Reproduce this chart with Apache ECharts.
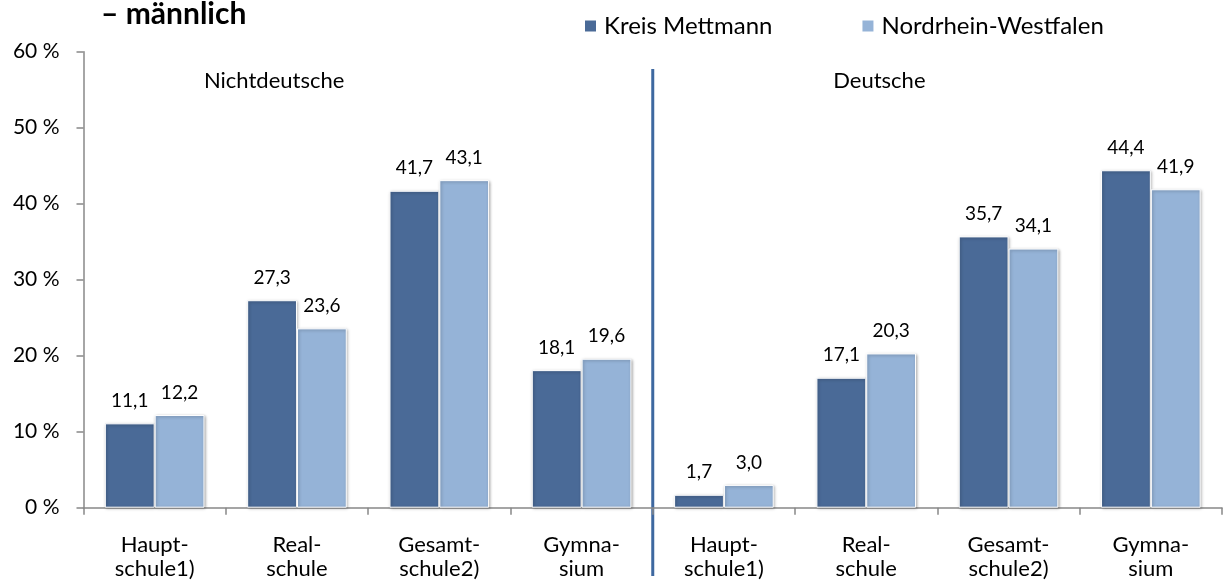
<!DOCTYPE html>
<html>
<head>
<meta charset="utf-8">
<script src="https://cdn.jsdelivr.net/npm/echarts@6/dist/echarts.min.js"></script>
<style>html,body{margin:0;padding:0;background:#fff}#c{width:1223px;height:583px}</style>
</head>
<body>
<div id="c"></div>
<script>
const categories = ['Haupt-\nschule1)', 'Real-\nschule', 'Gesamt-\nschule2)', 'Gymna-\nsium', 'Haupt-\nschule1)', 'Real-\nschule', 'Gesamt-\nschule2)', 'Gymna-\nsium'];
const kreisMettmann = [11.1, 27.3, 41.7, 18.1, 1.7, 17.1, 35.7, 44.4];
const nrw = [12.2, 23.6, 43.1, 19.6, 3.0, 20.3, 34.1, 41.9];
const seriesNames = ['Kreis Mettmann', 'Nordrhein-Westfalen'];
const groupLabels = ['Nichtdeutsche', 'Deutsche'];
const titleText = '– männlich';

const FONT = 'Lato';
const chart = echarts.init(document.getElementById('c'));
const barStyle = (color) => ({
  color: color,
  borderColor: '#ffffff',
  borderWidth: 1,
  shadowColor: 'rgba(0,0,0,0.35)',
  shadowBlur: 3,
  shadowOffsetX: 1,
  shadowOffsetY: 1
});
const labelCfg = {
  show: true, position: 'top', distance: 13,
  fontFamily: FONT, fontSize: 19, color: '#000',
  formatter: p => p.value.toFixed(1).replace('.', ',')
};
chart.setOption({
  animation: false,
  textStyle: { fontFamily: FONT },
  title: {
    text: titleText, left: 96, top: -6,
    textStyle: { fontFamily: FONT, fontWeight: 'bold', fontSize: 30, color: '#000' }
  },
  legend: {
    data: seriesNames, left: 578, top: 9, itemWidth: 13, itemHeight: 13, itemGap: 88,
    icon: 'rect',
    textStyle: { fontFamily: FONT, fontSize: 24, color: '#000', padding: [0, 0, 0, 2] }
  },
  grid: { left: 83.5, right: 1, top: 51.7, bottom: 75.3, containLabel: false },
  xAxis: {
    type: 'category', data: categories,
    axisLine: { lineStyle: { color: '#888', width: 1.5 } },
    axisTick: { show: true, length: 7, lineStyle: { color: '#888', width: 1.5 } },
    axisLabel: { fontFamily: FONT, fontSize: 22, color: '#000', margin: 25, lineHeight: 24, interval: 0 }
  },
  yAxis: {
    type: 'value', min: 0, max: 60, interval: 10,
    axisLine: { show: true, lineStyle: { color: '#888', width: 1.5 } },
    axisTick: { show: true, inside: false, length: 7, lineStyle: { color: '#888', width: 1.5 } },
    splitLine: { show: false },
    axisLabel: { fontFamily: FONT, fontSize: 21, color: '#000', margin: 24, formatter: '{value} %' }
  },
  series: [
    { name: seriesNames[0], type: 'bar', data: kreisMettmann, barGap: '0%', barCategoryGap: '30%',
      itemStyle: barStyle('#4A6A97'), label: labelCfg },
    { name: seriesNames[1], type: 'bar', data: nrw,
      itemStyle: barStyle('#95B3D7'), label: labelCfg }
  ]
});

function addGraphics() {
  const c1 = chart.convertToPixel({ xAxisIndex: 0 }, 1);
  const c2 = chart.convertToPixel({ xAxisIndex: 0 }, 2);
  const c3 = chart.convertToPixel({ xAxisIndex: 0 }, 3);
  const c4 = chart.convertToPixel({ xAxisIndex: 0 }, 4);
  const c5 = chart.convertToPixel({ xAxisIndex: 0 }, 5);
  const c6 = chart.convertToPixel({ xAxisIndex: 0 }, 6);
  const divX = (c3 + c4) / 2;
  chart.setOption({
    graphic: [
      { type: 'line', shape: { x1: divX, y1: 69, x2: divX, y2: 576 },
        style: { stroke: '#3E68A0', lineWidth: 3 } },
      { type: 'text', x: (c1 + c2) / 2 - 94, y: 81,
        style: { text: groupLabels[0], fontFamily: FONT, fontSize: 22, fill: '#000', textAlign: 'center', textVerticalAlign: 'middle' } },
      { type: 'text', x: (c5 + c6) / 2 - 58, y: 81,
        style: { text: groupLabels[1], fontFamily: FONT, fontSize: 22, fill: '#000', textAlign: 'center', textVerticalAlign: 'middle' } }
    ]
  });
}
addGraphics();
</script>
</body>
</html>
